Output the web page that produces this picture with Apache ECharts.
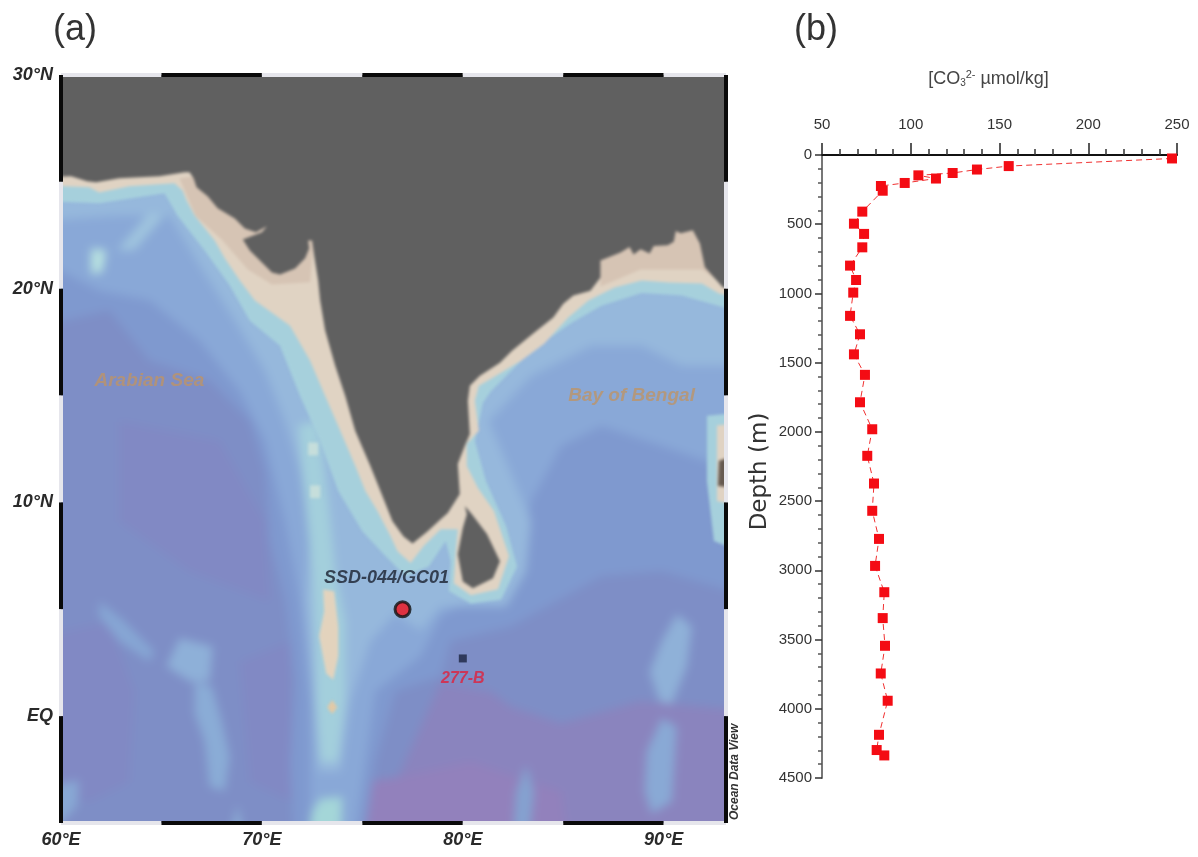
<!DOCTYPE html>
<html><head><meta charset="utf-8"><style>html,body{margin:0;background:#fff}#c{width:1198px;height:857px}
canvas[data-zr-dom-id="zr_0"]{filter:blur(5px);clip-path:inset(75px 472px 34px 61px)}
canvas[data-zr-dom-id="zr_1"]{filter:blur(1.8px);clip-path:inset(75px 472px 34px 61px)}
canvas[data-zr-dom-id="zr_2"]{filter:blur(0.55px)}
</style>
<script src="https://cdn.jsdelivr.net/npm/echarts@6/dist/echarts.min.js"></script></head><body><div id="c"></div>
<script>
// ---------- panel (b) data: depth profile ----------
const co3Values = [247.2,155.2,137.3,123.6,104.3,114.2,96.6,83.2,84.2,72.7,68,73.7,72.7,65.8,69.2,67.6,65.8,71.4,68,74.2,71.4,78.3,75.5,79.3,78.3,82.1,79.9,85.1,84.2,85.5,83.1,87,82.1,80.8,85.1];
const depthValues = [25,80,105,130,147,170,202,224,258,409,496,570,667,799,903,994,1162,1295,1440,1588,1786,1981,2173,2373,2570,2773,2968,3158,3345,3545,3745,3942,4188,4298,4337];
// ---------- panel (a) data: lon / lat outlines ----------
const indiaCoast = [[60,25.17],[60.5,25.26],[61.3,25.03],[61.75,24.98],[62.9,25.17],[63.9,25.22],[64.9,25.26],[66.15,25.45],[66.4,25.45],[66.6,25.17],[66.75,24.75],[67.3,24.33],[67.8,23.76],[68.65,23.29],[69.15,22.82],[69.7,22.64],[70.25,22.92],[70,22.64],[69.05,22.3],[69.4,21.79],[70,21.23],[70.5,20.76],[70.9,20.67],[71.65,20.95],[72.15,21.42],[72.35,21.88],[72.3,22.26],[72.5,22.26],[72.6,21.56],[72.8,20.38],[72.9,19.45],[73.15,18.04],[73.65,16.4],[74.15,14.98],[74.65,13.34],[75.4,11.7],[75.9,10.53],[76.5,9.12],[77.05,8.41],[77.5,8.08],[78.25,8.65],[78.9,9.21],[79.25,9.5],[79.85,10.4],[79.75,11.8],[80.1,12.65],[80.35,13.2],[80.25,14.76],[80.35,15.46],[80.85,15.93],[81.85,16.54],[82.45,17.1],[83.5,17.9],[84.5,18.65],[85,19.3],[85.5,19.68],[86.35,19.91],[86.85,20.52],[86.85,21.32],[87.85,21.7],[88.3,21.95],[88.5,21.6],[88.85,21.85],[89.3,21.65],[89.5,22.0],[90.2,22.03],[90.5,22.2],[90.6,22.7],[90.85,22.59],[91.45,22.73],[91.8,22.12],[92.05,21],[92.95,20.06],[93.1,20]];
const sriLanka = [[80.1,9.83],[80.45,9.45],[81.2,8.52],[81.85,7.25],[81.5,6.45],[80.5,5.98],[80,6.3],[79.75,7.58],[80,8.8],[80.2,9.45]];
const sandContour = [[60,24.88],[61.4,24.75],[61.9,24.5],[63.4,24.8],[65.65,24.93],[66.05,24.6],[66.25,24.13],[66.65,23.43],[67.65,22.26],[68.15,21.42],[68.9,20.38],[69.65,19.45],[71.4,18.27],[72.4,16.63],[73.15,14.98],[73.9,13.35],[74.65,11.7],[75.15,10.53],[75.75,9.6],[76.4,8.43],[76.75,7.72],[77.4,7.16],[78.05,7.96],[78.9,8.75],[79.75,8.75],[79.65,7.72],[79.55,6.22],[80.4,5.66],[81.75,5.94],[82.3,7.49],[81.55,9.6],[80.75,10.68],[80.2,11.7],[80.2,12.74],[80.8,13.35],[80.6,14.76],[80.8,15.46],[81.4,15.79],[82.9,16.63],[84.05,17.43],[85.25,18.65],[86.25,19.45],[87.55,20.06],[88.9,20.38],[90.25,20.29],[91.9,20.24],[92.75,19.78],[93.1,19.3]];
const tealContour = [[60,24.14],[61.9,24],[65.15,24.47],[65.8,23.43],[67.15,21.79],[68.4,20.15],[69.4,18.5],[70.9,17.33],[71.9,14.98],[72.8,13.1],[73.8,10.53],[75,8.65],[76.15,7.49],[77.15,6.55],[78.3,7],[79.15,8.2],[79.4,7.25],[79.3,5.85],[80.4,5.27],[81.9,5.46],[82.7,7],[82.15,8.9],[81.15,11],[80.6,12.87],[81,14.66],[81.4,15.2],[83.4,17.1],[85.4,18.4],[86.9,19.2],[88.9,19.8],[90.9,19.68],[93.1,18.6]];
const shelfContour = [[60,23.1],[62.9,23.43],[65.4,23.43],[66.9,21.09],[68.65,18.5],[70.15,16.16],[71.15,13.8],[71.9,11.47],[72.4,8.65],[72.15,5.38],[72.5,1.63],[72.8,-2.6],[73.9,-2.6],[74.4,0.67],[75.4,3.5],[76.65,4.8],[77.9,4],[78.9,5.13],[82.15,5.13],[83.15,6.78],[83.4,9.13],[81.3,13.8],[83.4,15.9],[86.4,17.33],[88.9,17.33],[90.9,16.4],[93.1,16.4]];
const slopeContour = [[60,21.8],[61.9,19.9],[64.4,19.45],[66.9,17.57],[68.9,15.2],[70.15,12.9],[71.15,9.13],[71.9,5.38],[72.4,0.7],[72.4,-5],[74.4,-5],[75.15,-2.13],[75.65,1.16],[77.9,2.8],[78.9,4.67],[82.9,6.78],[83.4,10.07],[84.9,12.64],[86.9,13.58],[89.9,12.64],[93.1,11]];
const riseContour = [[60,18.04],[62.4,18.98],[64.4,16.63],[67.4,15.7],[69.4,13.8],[70.15,11.47],[70.4,8.18],[71.15,5.38],[71.65,1.63],[71.4,-2.13],[71.65,-5],[74.9,-5],[75.65,-2.13],[76.65,1.16],[78.9,1.86],[79.4,3.5],[82.4,4.2],[86.9,6.55],[89.9,6.78],[93.1,5.4]];
const abyssContour = [[60,-5],[74.9,-5],[76.9,-2.6],[78.9,1.6],[81.4,1.14],[82.4,0.44],[84.9,-0.35],[88.8,0.7],[93.1,0.2]];
const basinWest = [[60,3.5],[62.4,4.44],[63.65,1.16],[63.4,-3.08],[61.4,-4],[60,-3.08]];
const basinMid = [[62.9,13.8],[67.9,12.87],[70.15,9.13],[70.4,5.38],[66.4,6.77],[62.9,9.13]];
const basinSouth = [[68.9,2.55],[71.4,3.5],[71.5,-4],[69.4,-3.08]];
const fanSouth = [[74.15,-5],[75.15,-3.08],[76.9,-2.83],[80.4,-2.13],[84.9,-3.53],[85.4,-5]];
const laccadiveHalo = [[71.8,13.6],[72.8,13.8],[73.3,10.07],[73.65,6.8],[74.15,4.4],[74.15,0.67],[73.8,-2.13],[72.9,-2.13],[72.7,0.67],[72.65,3.5],[72.5,6.8],[72.15,10.07]];
const maldives = [[73.05,5.93],[73.6,5.84],[73.8,4.2],[73.8,2.8],[73.55,1.7],[73.2,2],[72.85,3.75],[73.1,4.9]];
const addu = [[73.5,0.75],[73.75,0.42],[73.5,0.1],[73.25,0.42]];
const laccadiveA = [[72.3,12.8],[72.8,12.8],[72.8,12.2],[72.3,12.2]];
const laccadiveB = [[72.4,10.8],[72.9,10.8],[72.9,10.2],[72.4,10.2]];
const chagosFoot = [[72.9,-3.86],[74,-3.77],[73.9,-5],[72.05,-5],[72.5,-4.47]];
const carlsbergA = [[65.9,3.64],[67.55,3.26],[67.4,1.63],[66.4,1.63],[65.25,2.33]];
const carlsbergB = [[66.65,1.63],[67.5,1.4],[68,-0.25],[68.4,-1.9],[68.15,-3.5],[67.4,-3.3],[67.15,-1.2],[66.65,0.15]];
const carlsbergC = [[68.8,-4.14],[69.25,-5],[68.15,-5]];
const carlsbergD = [[61.9,5.38],[63.15,4.44],[64.65,3.03],[64.4,2.56],[62.9,3.5],[61.9,4.67]];
const cornerPatch = [[60,-3.5],[60.9,-3],[60.8,-4.2],[60,-5]];
const murrayPale = [[61.5,21.88],[62.25,21.8],[62.05,20.76],[61.5,20.7]];
const murrayStreak = [[62.8,21.8],[64.4,23.57],[65.15,23.43],[63.65,21.8]];
const ninetyEastA = [[90.65,4.77],[91.4,4.2],[91.15,2.33],[90.4,0.55],[89.8,0.67],[89.3,2.07],[89.9,3.5]];
const ninetyEastB = [[89.9,-0.1],[90.65,-0.5],[90.5,-2.6],[90.4,-4],[89.4,-4.57],[89.05,-3.53],[89.15,-1.66]];
const eightyFive = [[83.15,-2.27],[83.55,-3.53],[83.15,-5],[82.4,-5],[82.65,-3.53]];
const andamanHalo = [[92.15,14.05],[93.1,14.3],[93.1,7.25],[92.5,8.2],[92.15,11]];
const andamanSand = [[92.65,13.6],[93.1,13.83],[93.1,9.6],[92.65,10.07]];
const andamanLand = [[92.75,11.95],[93.1,12.65],[93.1,10.5],[92.7,10.77]];
const sandDarkWest = [[65.9,25.17],[66.7,23.4],[68.0,22.3],[69.3,20.9],[70.5,20.2],[72.4,20.3],[72.9,25.9]];
const sandDarkEast = [[86.85,20.1],[88.85,20.9],[91.9,20.9],[92.9,20.24],[92.9,23.2],[86.85,23.2]];
const northCorners = [[93.1,30],[60,30]];
// ---------- frame segments, labels ----------
const lonEdges = [60,65,70,75,80,85,90,93.1];
const latEdges = [30,25,20,15,10,5,0,-5];
const stations = [[77.0,5.0]];
const coreB = [[80.0,2.7]];
const seaLabels = [[64.4,15.7,'Arabian Sea'],[88.4,15.0,'Bay of Bengal']];
const siteLabels = [[76.2,6.45,'SSD-044/GC01']];
const siteLabelsRed = [[80.0,1.75,'277-B']];

const C = {
  base:'#8a84be', abyss:'#7e8ec6', basin:'#8189c4', pink:'#9281bc', rise:'#7f99cf', slope:'#89a8d7',
  shelf:'#96b8dc', teal:'#a6d0dc', sand:'#e0d3c3', sandD:'#d6c4b4', land:'#606060'
};
const allOcean = [[60,30],[93.1,30],[93.1,-5],[60,-5]];
// style tables: [outline, colour, closing corners]
const deepLayers = [
  [allOcean,C.base,[]],
  [abyssContour,C.abyss,northCorners],
  [basinWest,C.basin,[]],[basinMid,C.basin,[]],[basinSouth,C.basin,[]],[fanSouth,C.pink,[]],
  [riseContour,C.rise,northCorners],
  [slopeContour,C.slope,northCorners],
  [carlsbergA,'#8eb0d8',[]],[carlsbergB,'#8aacd6',[]],[carlsbergC,'#8eb4d8',[]],[carlsbergD,'#86a6d4',[]],[cornerPatch,'#88a8d4',[]],
  [ninetyEastA,'#8fb1d8',[]],[ninetyEastB,'#89a9d5',[]],[eightyFive,'#84a2d0',[]],
  [shelfContour,C.shelf,northCorners],
  [laccadiveHalo,'#a3cfdc',[]],[chagosFoot,'#a4d6d8',[]],
  [murrayStreak,'#9fc4de',[]],[murrayPale,'#b8e2e0',[]]
];
const coastLayers = [
  [andamanHalo,C.teal,[]],
  [tealContour,C.teal,northCorners],
  [sandContour,C.sand,northCorners],
  [sandDarkWest,C.sandD,[]],[sandDarkEast,C.sandD,[]],
  [maldives,'#e3d3bd',[]],[addu,'#e2c9a6',[]],[laccadiveA,'#c6dedb',[]],[laccadiveB,'#c6dedb',[]],
  [andamanSand,C.sand,[]],[andamanLand,'#665a50',[]],
  [indiaCoast,C.land,northCorners],[sriLanka,C.land,[]]
];
// outlines that touch the frame run on past it, so the soft edge falls behind the frame
const bleed = p => [p[0]<=60?58:p[0]>=93.1?95:p[0], p[1]>=30?32:p[1]<=-5?-7:p[1]];
function polyItem(api,L){
  const pts=L[0].concat(L[2]).map(p=>api.coord(bleed(p)));
  return {type:'polygon',shape:{points:pts},style:{fill:L[1]}};
}
function segments(){
  const s=[];
  for(let i=0;i<lonEdges.length-1;i++){const col=i%2?'#0a0a0a':'#e6e6ec';
    s.push([[lonEdges[i],30],[lonEdges[i+1],30],col]);
    s.push([[lonEdges[i],-5],[lonEdges[i+1],-5],col]);}
  for(let i=0;i<latEdges.length-1;i++){const col=i%2?'#e6e6ec':'#0a0a0a';
    s.push([[60,latEdges[i]],[60,latEdges[i+1]],col]);
    s.push([[93.1,latEdges[i]],[93.1,latEdges[i+1]],col]);}
  return s;
}
const frame=segments();
const mapFont='"Liberation Sans",Arial,sans-serif';
const ch=echarts.init(document.getElementById('c'),null,{renderer:'canvas'});
ch.setOption({
  animation:false,backgroundColor:'transparent',
  grid:[{left:61,top:75,width:665,height:748},{left:822,top:155,width:355,height:623}],
  xAxis:[
   {gridIndex:0,zlevel:2,type:'value',min:60,max:93.1,interval:5,splitLine:{show:false},axisLine:{show:false},axisTick:{show:false},
    axisLabel:{margin:8,fontFamily:mapFont,fontSize:18,fontWeight:'bold',fontStyle:'italic',color:'#2a2a2a',
      showMaxLabel:false,formatter:v=>v%10===0?v+'°E':''}},
   {gridIndex:1,zlevel:2,type:'value',position:'top',min:50,max:250,interval:50,splitLine:{show:false},
    axisLine:{onZero:false,lineStyle:{color:'#111',width:2}},
    axisTick:{length:12,lineStyle:{color:'#222',width:1.5}},minorTick:{show:true,splitNumber:5,length:6,lineStyle:{color:'#333',width:1.5}},
    axisLabel:{margin:23,fontFamily:mapFont,fontSize:15,color:'#333'},
    name:'{a|[CO}{s|3}{p|2-}{a| µmol/kg]}',nameLocation:'middle',nameGap:65,
    nameTextStyle:{padding:[0,22,0,0],rich:{a:{fontFamily:mapFont,fontSize:18,color:'#444'},s:{fontFamily:mapFont,fontSize:10,color:'#444',padding:[8,0,0,0]},p:{fontFamily:mapFont,fontSize:11,color:'#444',padding:[0,0,10,0]}}}}
  ],
  yAxis:[
   {gridIndex:0,zlevel:2,type:'value',min:-5,max:30,interval:5,splitLine:{show:false},axisLine:{show:false},axisTick:{show:false},
    axisLabel:{margin:8,fontFamily:mapFont,fontSize:18,fontWeight:'bold',fontStyle:'italic',color:'#2a2a2a',
      formatter:v=>v===0?'EQ':(v%10===0&&v>0?v+'°N':'')}},
   {gridIndex:1,zlevel:2,type:'value',inverse:true,min:0,max:4500,interval:500,splitLine:{show:false},
    axisLine:{onZero:false,lineStyle:{color:'#777',width:2}},
    axisTick:{length:7,lineStyle:{color:'#333',width:1.5}},minorTick:{show:true,splitNumber:5,length:4,lineStyle:{color:'#555',width:1.5}},
    axisLabel:{margin:10,fontFamily:mapFont,fontSize:15,color:'#333',formatter:v=>String(v)},
    name:'Depth (m)',nameLocation:'middle',nameGap:50,nameTextStyle:{fontFamily:'"DejaVu Sans"',fontSize:23,color:'#333',padding:[0,10,0,0]}}
  ],
  series:[
   {type:'custom',xAxisIndex:0,yAxisIndex:0,clip:false,silent:true,zlevel:0,
    data:deepLayers.map((_,i)=>[60,30,i]),renderItem:(p,api)=>polyItem(api,deepLayers[api.value(2)])},
   {type:'custom',xAxisIndex:0,yAxisIndex:0,clip:false,silent:true,zlevel:1,
    data:coastLayers.map((_,i)=>[60,30,i]),renderItem:(p,api)=>polyItem(api,coastLayers[api.value(2)])},
   {type:'custom',xAxisIndex:0,yAxisIndex:0,clip:false,silent:true,zlevel:2,z:2,
    data:frame.map((_,i)=>[60,30,i]),renderItem:(p,api)=>{const f=frame[api.value(2)],a=api.coord(f[0]),b=api.coord(f[1]);
      return {type:'line',shape:{x1:a[0],y1:a[1],x2:b[0],y2:b[1]},style:{stroke:f[2],lineWidth:4}};}},
   {type:'scatter',xAxisIndex:0,yAxisIndex:0,zlevel:2,z:5,data:seaLabels,symbolSize:1,itemStyle:{color:'transparent'},
    label:{show:true,position:'inside',formatter:p=>p.data[2],fontFamily:mapFont,fontSize:19,fontWeight:'bold',fontStyle:'italic',color:'#bd9468'}},
   {type:'scatter',xAxisIndex:0,yAxisIndex:0,zlevel:2,z:5,data:siteLabels,symbolSize:1,itemStyle:{color:'transparent'},
    label:{show:true,position:'inside',formatter:p=>p.data[2],fontFamily:mapFont,fontSize:18,fontWeight:'bold',fontStyle:'italic',color:'#1a2030'}},
   {type:'scatter',xAxisIndex:0,yAxisIndex:0,zlevel:2,z:5,data:siteLabelsRed,symbolSize:1,itemStyle:{color:'transparent'},
    label:{show:true,position:'inside',formatter:p=>p.data[2],fontFamily:mapFont,fontSize:16,fontWeight:'bold',fontStyle:'italic',color:'#e0203c'}},
   {type:'scatter',xAxisIndex:0,yAxisIndex:0,zlevel:2,z:6,data:stations,symbol:'circle',symbolSize:15,itemStyle:{color:'#f0101a',borderColor:'#111',borderWidth:3}},
   {type:'scatter',xAxisIndex:0,yAxisIndex:0,zlevel:2,z:6,data:coreB,symbol:'rect',symbolSize:8,itemStyle:{color:'#1c2440'}},
   {type:'line',xAxisIndex:1,yAxisIndex:1,zlevel:2,z:4,data:co3Values.map((v,i)=>[v,depthValues[i]]),
    symbol:'rect',symbolSize:10,showSymbol:true,clip:false,
    lineStyle:{color:'#f03030',width:1,type:[6,4]},itemStyle:{color:'#f40c14'}}
  ],
  graphic:[
   {type:'text',zlevel:2,left:53,top:12,style:{text:'(a)',font:'36px "Liberation Sans"',fill:'#333'}},
   {type:'text',zlevel:2,left:794,top:12,style:{text:'(b)',font:'36px "Liberation Sans"',fill:'#333'}},
   {type:'text',zlevel:2,x:729,y:820,rotation:Math.PI/2,style:{text:'Ocean Data View',font:'bold italic 12px "Liberation Sans"',fill:'#333'}}
  ]
});
</script></body></html>
